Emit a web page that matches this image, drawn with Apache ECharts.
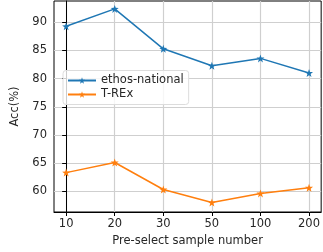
<!DOCTYPE html>
<html>
<head>
<meta charset="utf-8">
<script src="https://cdn.jsdelivr.net/npm/echarts@6/dist/echarts.min.js"></script>
<style>
  html, body { margin: 0; padding: 0; background: #fff; }
  #main { width: 323px; height: 252px; }
</style>
</head>
<body>
<div id="main"></div>
<script>
// sample sizes on the x axis
var categories = ['10', '20', '30', '50', '100', '200'];
var ethosNational = [89.3, 92.4, 85.3, 82.3, 83.6, 81.0];
var trex = [63.3, 65.1, 60.3, 58.0, 59.6, 60.6];
var yTicks = [60, 65, 70, 75, 80, 85, 90];

var star = 'path://M0,-10 L2.35,-3.24 L9.51,-3.09 L3.8,1.24 L5.88,8.09 L0,4 L-5.88,8.09 L-3.8,1.24 L-9.51,-3.09 L-2.35,-3.24 Z';
var font = 'DejaVu Sans';
var textColor = '#262626';

function toPoints(arr) {
  return arr.map(function (v, i) { return [i, v]; });
}

var myChart = echarts.init(document.getElementById('main'));

var option = {
  animation: false,
  textStyle: { fontFamily: font },
  grid: {
    left: 54,
    top: 1,
    width: 270.5,
    bottom: 40,
    show: true,
    borderColor: '#000',
    borderWidth: 1
  },
  legend: {
    orient: 'vertical',
    left: 63,
    top: 70.5,
    padding: [4, 5, 4, 4],
    itemGap: 2,
    itemWidth: 28,
    itemHeight: 8,
    borderColor: '#dcdcdc',
    borderWidth: 1,
    borderRadius: 3,
    backgroundColor: 'rgba(255,255,255,0.8)',
    textStyle: { fontFamily: font, fontSize: 11.5, color: textColor },
    data: ['ethos-national', 'T-REx']
  },
  xAxis: {
    type: 'value',
    min: -0.25,
    max: 5.25,
    name: 'Pre-select sample number',
    nameLocation: 'middle',
    nameGap: 23,
    nameTextStyle: { fontFamily: font, fontSize: 11.5, color: textColor },
    axisLine: { show: true, lineStyle: { color: '#000', width: 1 } },
    axisTick: {
      show: true,
      length: 4,
      customValues: [0, 1, 2, 3, 4, 5],
      lineStyle: { color: '#000' }
    },
    axisLabel: {
      customValues: [0, 1, 2, 3, 4, 5],
      margin: 6,
      fontFamily: font,
      fontSize: 11.5,
      color: textColor,
      formatter: function (v) { return categories[Math.round(v)]; }
    },
    splitLine: { show: true, lineStyle: { color: '#cfcfcf', width: 1.2 } }
  },
  yAxis: {
    type: 'value',
    min: 56.3,
    max: 93.8,
    name: 'Acc(%)',
    nameLocation: 'middle',
    nameGap: 33,
    nameTextStyle: { fontFamily: font, fontSize: 11.5, color: textColor },
    axisLine: { show: true, lineStyle: { color: '#000', width: 1 } },
    axisTick: {
      show: true,
      length: 4,
      customValues: yTicks,
      lineStyle: { color: '#000' }
    },
    axisLabel: {
      customValues: yTicks,
      margin: 7,
      fontFamily: font,
      fontSize: 11.5,
      color: textColor
    },
    splitLine: { show: true, lineStyle: { color: '#cfcfcf', width: 1.2 } }
  },
  series: [
    {
      name: 'ethos-national',
      type: 'line',
      data: toPoints(ethosNational),
      symbol: star,
      symbolSize: 8,
      color: '#1f77b4',
      lineStyle: { width: 1.5 }
    },
    {
      name: 'T-REx',
      type: 'line',
      data: toPoints(trex),
      symbol: star,
      symbolSize: 8,
      color: '#ff7f0e',
      lineStyle: { width: 1.5 }
    }
  ]
};

myChart.setOption(option);
</script>
</body>
</html>
